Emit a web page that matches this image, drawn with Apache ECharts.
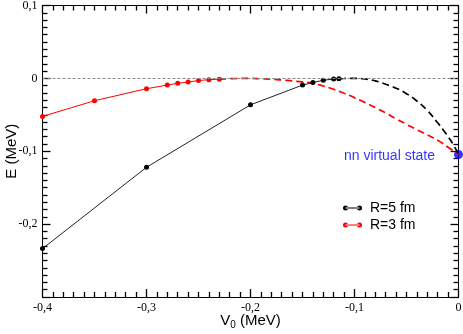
<!DOCTYPE html>
<html>
<head>
<meta charset="utf-8">
<script src="https://cdn.jsdelivr.net/npm/echarts@6/dist/echarts.min.js"></script>
<style>
  html, body { margin: 0; padding: 0; background: #fff; }
  #chart { width: 463px; height: 334px; }
</style>
</head>
<body>
<div id="chart"></div>
<script>
// R=5 fm computed points (solid line with dots)
const r5V = [-0.4, -0.3, -0.2, -0.15, -0.14, -0.13, -0.12, -0.115];
const r5E = [-0.2336, -0.122, -0.0363, -0.0092, -0.0058, -0.0025, -0.001, -0.0005];

// R=3 fm computed points
const r3V = [-0.4, -0.35, -0.3, -0.28, -0.27, -0.26, -0.25, -0.24, -0.23];
const r3E = [-0.0522, -0.0307, -0.0142, -0.0092, -0.0068, -0.005, -0.003, -0.0018, -0.0011];

// dashed extrapolations down to the nn virtual state
const r5dashV = [-0.115, -0.11, -0.105, -0.1, -0.09, -0.08, -0.07, -0.06, -0.05, -0.04, -0.03, -0.02, -0.015, -0.01, -0.005, 0];
const r5dashE = [-0.0005, -0.0002, 0, 0, -0.0008, -0.0035, -0.008, -0.0135, -0.021, -0.031, -0.044, -0.061, -0.07, -0.08, -0.091, -0.1045];

const r3dashV = [-0.23, -0.22, -0.21, -0.2, -0.19, -0.18, -0.17, -0.16, -0.15, -0.14, -0.13, -0.12, -0.11, -0.1, -0.09, -0.08, -0.07, -0.06, -0.05, -0.04, -0.03, -0.02, -0.01, 0];
const r3dashE = [-0.0011, -0.0005, -0.0001, 0, -0.0006, -0.0012, -0.0022, -0.0035, -0.0048, -0.0068, -0.0105, -0.015, -0.0205, -0.0265, -0.033, -0.04, -0.0475, -0.0555, -0.063, -0.0705, -0.0775, -0.085, -0.0945, -0.1045];

// virtual state point
const nnV = [0];
const nnE = [-0.1045];

// axis ranges / ticks
const xTicks = [-0.4, 0, 0.1];   // min, max, interval
const yTicks = [-0.3, 0.1, 0.1];

function pairs(xs, ys) {
    return xs.map((x, i) => [x, ys[i]]);
}

// tick labels use a decimal comma
function commaLabel(v) {
    const r = Math.round(v * 10) / 10;
    if (r === 0) return '0';
    return r.toFixed(1).replace('.', ',');
}

const serif = 'Liberation Serif';
const sans = 'Liberation Sans';

function makeAxis(extra, range) {
    return Object.assign({
        type: 'value',
        min: range[0],
        max: range[1],
        interval: range[2],
        axisLine: { show: true, onZero: false, lineStyle: { color: '#000' } },
        axisTick: { show: true, inside: true, length: 8, lineStyle: { color: '#000', width: 1.3 } },
        minorTick: { show: true, splitNumber: 10, length: 5, lineStyle: { color: '#000', width: 1.3 } },
        splitLine: { show: false }
    }, extra);
}

const chart = echarts.init(document.getElementById('chart'));

// legend icon: short line with a dot at each end
const legendIcon = 'path://M2.5,0 A2.5,2.5 0 1,0 2.5,5 A2.5,2.5 0 1,0 2.5,0 Z M2.5,2 L16.5,2 L16.5,3 L2.5,3 Z M16.5,0 A2.5,2.5 0 1,0 16.5,5 A2.5,2.5 0 1,0 16.5,0 Z';

const options = {
    animation: false,
    grid: { left: 42.5, right: 4.5, top: 5.5, bottom: 37, outerBoundsMode: 'none' },
    legend: {
        data: [
            { name: 'R=5 fm', icon: legendIcon },
            { name: 'R=3 fm', icon: legendIcon }
        ],
        orient: 'vertical',
        left: 338,
        top: 196,
        itemWidth: 19,
        itemHeight: 5,
        itemGap: 3,
        textStyle: { fontFamily: sans, fontSize: 14, color: '#000', lineHeight: 14, padding: [0, 0, 0, 3] },
        selectedMode: false
    },
    xAxis: [
        makeAxis({
            position: 'bottom',
            name: '{v|V}{s|0}{v| (MeV)}',
            nameLocation: 'middle',
            nameGap: 15,
            nameMoveOverlap: false,
            nameTextStyle: {
                rich: {
                    v: { fontFamily: sans, fontSize: 15, color: '#000' },
                    s: { fontFamily: sans, fontSize: 10, color: '#000', padding: [8, 0, 0, 0] }
                }
            },
            axisLabel: {
                show: true, margin: 5, fontFamily: serif, fontSize: 12, color: '#000',
                formatter: commaLabel
            }
        }, xTicks),
        makeAxis({ position: 'top', axisLabel: { show: true, color: 'rgba(0,0,0,0)', formatter: () => '' } }, xTicks)
    ],
    yAxis: [
        makeAxis({
            position: 'left',
            name: 'E (MeV)',
            nameLocation: 'middle',
            nameGap: 23,
            nameMoveOverlap: false,
            nameTextStyle: { fontFamily: sans, fontSize: 15, color: '#000' },
            axisLabel: {
                show: true, margin: 5, fontFamily: serif, fontSize: 12, color: '#000',
                formatter: v => (Math.round(v * 10) === -3 ? '' : commaLabel(v))
            }
        }, yTicks),
        makeAxis({ position: 'right', axisLabel: { show: true, color: 'rgba(0,0,0,0)', formatter: () => '' } }, yTicks)
    ],
    series: [
        {
            name: 'R=3 dashed',
            type: 'line',
            data: pairs(r3dashV, r3dashE),
            showSymbol: false,
            smooth: true,
            lineStyle: { color: '#ff0000', width: 1.7, type: [7, 4] },
            markLine: {
                silent: true,
                symbol: 'none',
                label: { show: false },
                lineStyle: { color: '#888', width: 1, type: [3, 2] },
                data: [{ yAxis: 0 }]
            }
        },
        {
            name: 'R=5 dashed',
            type: 'line',
            data: pairs(r5dashV, r5dashE),
            showSymbol: false,
            smooth: true,
            lineStyle: { color: '#000', width: 1.7, type: [7, 4] }
        },
        {
            name: 'R=5 fm',
            type: 'line',
            data: pairs(r5V, r5E),
            color: '#000',
            symbol: 'circle',
            symbolSize: 5,
            lineStyle: { color: '#222', width: 1 },
            itemStyle: { color: '#000' }
        },
        {
            name: 'R=3 fm',
            type: 'line',
            data: pairs(r3V, r3E),
            color: '#ff0000',
            symbol: 'circle',
            symbolSize: 5,
            lineStyle: { color: '#ff0000', width: 1 },
            itemStyle: { color: '#ff0000' }
        },
        {
            name: 'nn virtual state',
            type: 'scatter',
            data: pairs(nnV, nnE),
            symbolSize: 9,
            itemStyle: { color: '#0000ff' },
            label: {
                show: true,
                position: 'left',
                distance: 19,
                offset: [0, 2],
                formatter: 'nn virtual state',
                fontFamily: sans,
                fontSize: 14,
                color: '#0000ff'
            }
        }
    ]
};

chart.setOption(options);
</script>
</body>
</html>
